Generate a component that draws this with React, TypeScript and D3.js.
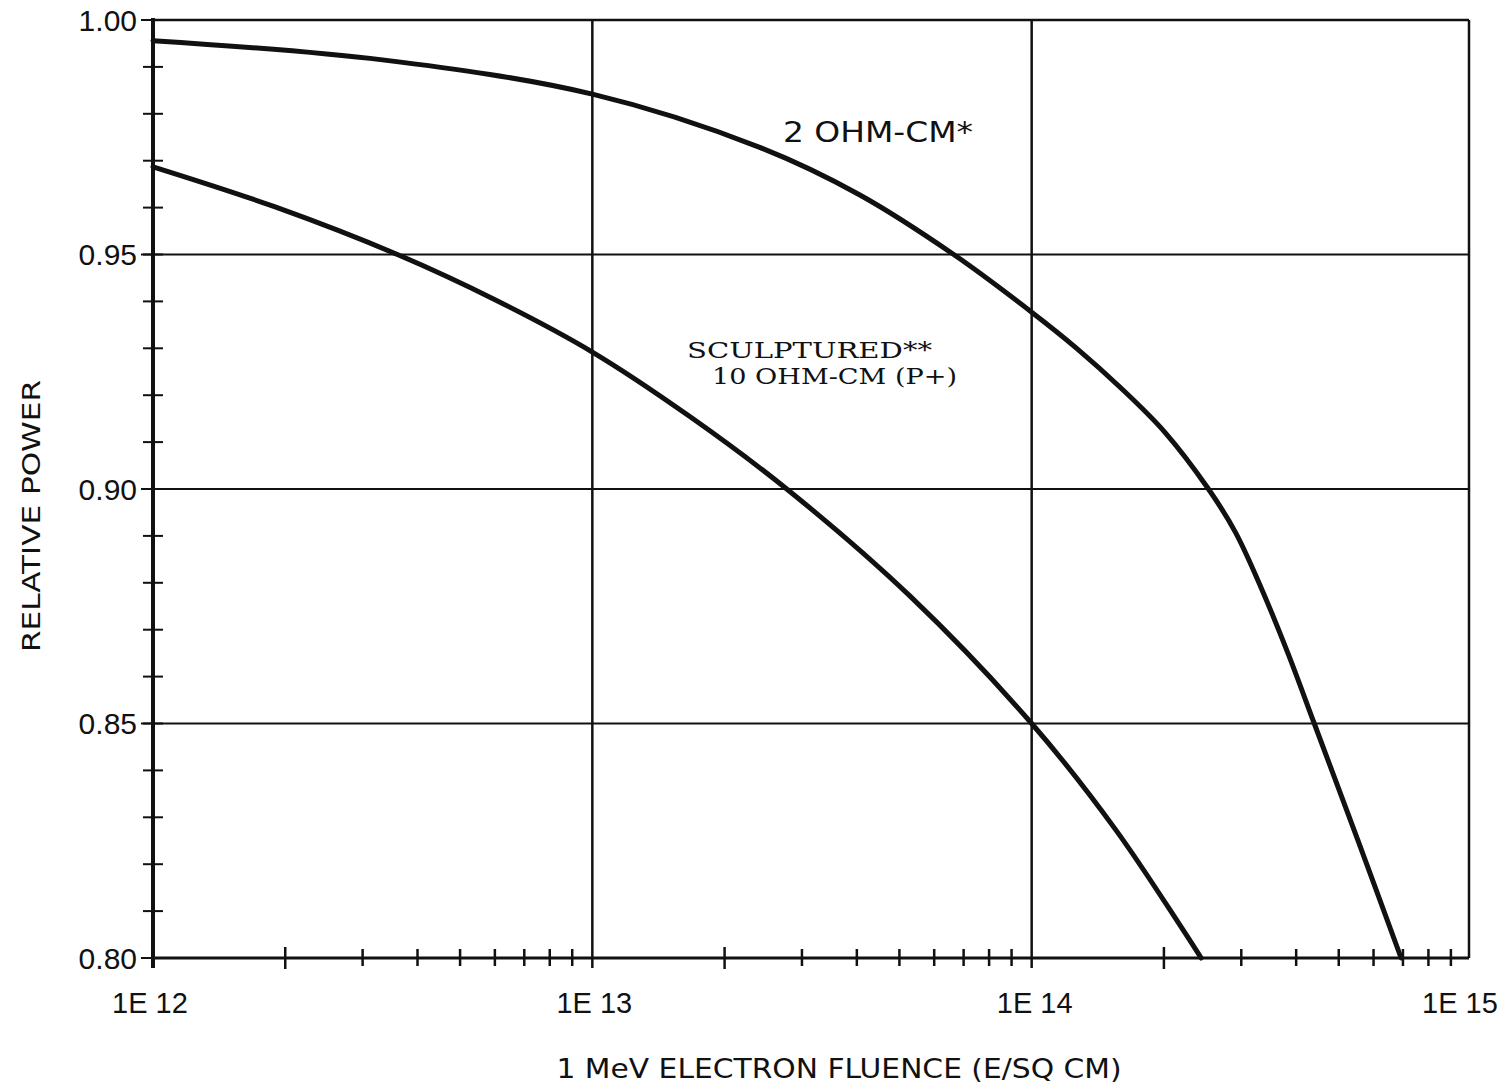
import React from "react";
import * as d3 from "d3";

// Relative maximum power vs 1 MeV electron fluence for two cell types
const fluence2Ohm = [
  1e12, 3.33e12, 1e13, 2.396e13, 4.045e13, 6.646e13, 1e14, 1.266e14, 1.594e14,
  2.006e14, 2.526e14, 2.908e14, 3.33e14, 3.838e14, 4.398e14, 5.537e14, 6.933e14,
];
const power2Ohm = [
  0.9956, 0.9915, 0.9842, 0.9729, 0.9628, 0.95, 0.9377, 0.93, 0.9216,
  0.9122, 0.9, 0.8908, 0.8789, 0.8648, 0.85, 0.8249, 0.8,
];

const fluenceSculptured = [1e12, 1.89e12, 3.6e12, 6.02e12, 1e13, 1.67e13, 2.77e13, 5.28e13, 1e14, 1.56e14, 2.43e14];
const powerSculptured = [0.9687, 0.9602, 0.95, 0.9403, 0.9292, 0.9154, 0.9, 0.8772, 0.85, 0.8271, 0.8];

const decadeTicks = [1e12, 1e13, 1e14, 1e15];
const decadeLabels = ["1E 12", "1E 13", "1E 14", "1E 15"];
const powerTicks = [1.0, 0.95, 0.9, 0.85, 0.8];
const powerLabels = ["1.00", "0.95", "0.90", "0.85", "0.80"];

const W = 1509;
const H = 1090;
const left = 153;
const top = 20;
const bottom = 958;

export default function App() {
  const x = d3.scaleLog().domain([1e12, 1e15]).range([left, 1471]);
  const y = d3.scaleLinear().domain([0.8, 1.0]).range([bottom, top]);
  const right = x(1e15) - 2;

  const line = d3
    .line<[number, number]>()
    .x((d) => x(d[0]))
    .y((d) => y(d[1]))
    .curve(d3.curveCatmullRom.alpha(0.5));

  const upper = line(fluence2Ohm.map((f, i) => [f, power2Ohm[i]]));
  const lower = line(fluenceSculptured.map((f, i) => [f, powerSculptured[i]]));

  // minor ticks: 2..9 within each decade
  const minorX: { v: number; k: number }[] = [];
  for (let e = 12; e < 15; e++) {
    for (let k = 2; k <= 9; k++) minorX.push({ v: k * Math.pow(10, e), k });
  }
  const minorY = d3.range(81, 100).map((i) => i / 100);
  const gridY = [0.85, 0.9, 0.95];
  const gridX = [1e13, 1e14];
  const labelShift = [-3, 2, 3, -11];

  const sans = "'Liberation Sans', Arial, sans-serif";
  const serif = "'DejaVu Serif', 'Liberation Serif', serif";

  return (
    <svg
      width={W}
      height={H}
      style={{ position: "absolute", left: 0, top: 0, background: "#fff" }}
    >
      <rect x={0} y={0} width={W} height={H} fill="#fff" />

      {/* gridlines */}
      {gridY.map((v) => (
        <line key={"gy" + v} x1={left} x2={right} y1={y(v)} y2={y(v)} stroke="#111" strokeWidth={2} />
      ))}
      {gridX.map((v) => (
        <line key={"gx" + v} x1={x(v)} x2={x(v)} y1={top} y2={bottom + 10} stroke="#111" strokeWidth={2.5} />
      ))}

      {/* frame */}
      <line x1={left} x2={right} y1={top} y2={top} stroke="#111" strokeWidth={2.5} />
      <line x1={right} x2={right} y1={top} y2={bottom} stroke="#111" strokeWidth={2.5} />
      <line x1={left} x2={right} y1={bottom} y2={bottom} stroke="#111" strokeWidth={3} />
      <line x1={left} x2={left} y1={top - 2} y2={bottom + 10} stroke="#111" strokeWidth={4} />

      {/* y ticks */}
      {minorY.map((v) => (
        <line key={"my" + v} x1={left - 10} x2={left + 10} y1={y(v)} y2={y(v)} stroke="#111" strokeWidth={2} />
      ))}
      {powerTicks.map((v) => (
        <line key={"ty" + v} x1={left - 12} x2={left} y1={y(v)} y2={y(v)} stroke="#111" strokeWidth={2} />
      ))}
      {powerTicks.map((v, i) => (
        <text
          key={"ly" + v}
          x={left - 16}
          y={y(v)}
          dy="0.36em"
          textAnchor="end"
          fontFamily={sans}
          fontSize={30}
          fill="#111"
        >
          {powerLabels[i]}
        </text>
      ))}

      {/* x ticks */}
      {minorX.map((t) => (
        <line
          key={"mx" + t.v}
          x1={x(t.v)}
          x2={x(t.v)}
          y1={bottom - (t.k === 2 ? 11 : 9)}
          y2={bottom + (t.k === 2 ? 11 : 8)}
          stroke="#111"
          strokeWidth={2.5}
        />
      ))}
      {decadeTicks.map((v, i) => (
        <text
          key={"lx" + v}
          x={x(v) + labelShift[i]}
          y={1013}
          textAnchor="middle"
          fontFamily={sans}
          fontSize={29}
          fill="#111"
        >
          {decadeLabels[i]}
        </text>
      ))}

      {/* curves */}
      <path d={upper || ""} fill="none" stroke="#111" strokeWidth={5} strokeLinecap="round" />
      <path d={lower || ""} fill="none" stroke="#111" strokeWidth={5} strokeLinecap="round" />

      {/* curve labels */}
      <text x={783} y={142} fontFamily="'DejaVu Sans', sans-serif" fontSize={28} textLength={190} lengthAdjust="spacingAndGlyphs" fill="#111">
        2 OHM-CM*
      </text>
      <text x={687} y={358} fontFamily={serif} fontSize={23} textLength={245} lengthAdjust="spacingAndGlyphs" fill="#111">
        SCULPTURED**
      </text>
      <text x={712} y={384} fontFamily={serif} fontSize={23} textLength={245} lengthAdjust="spacingAndGlyphs" fill="#111">
        10 OHM-CM (P+)
      </text>

      {/* axis titles */}
      <text
        x={839}
        y={1078}
        textAnchor="middle"
        fontFamily="'DejaVu Sans', sans-serif"
        fontSize={27}
        textLength={565}
        lengthAdjust="spacingAndGlyphs"
        fill="#111"
      >
        1 MeV ELECTRON FLUENCE (E/SQ CM)
      </text>
      <text
        transform={`translate(40, 516) rotate(-90)`}
        textAnchor="middle"
        fontFamily="'DejaVu Sans', sans-serif"
        fontSize={25}
        textLength={272}
        lengthAdjust="spacingAndGlyphs"
        fill="#111"
      >
        RELATIVE POWER
      </text>
    </svg>
  );
}
